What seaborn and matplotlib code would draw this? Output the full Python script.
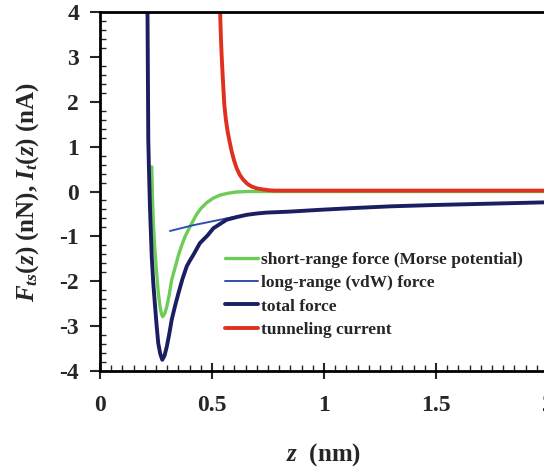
import numpy as np
import pandas as pd
import matplotlib
matplotlib.use("Agg")
import matplotlib.pyplot as plt
from matplotlib.ticker import MultipleLocator
import seaborn as sns

# --- valeurs ---
z_total = [0.209, 0.212, 0.2156, 0.219, 0.223, 0.227, 0.231, 0.238, 0.246, 0.253, 0.260, 0.269,
           0.278, 0.288, 0.298, 0.309, 0.320, 0.335, 0.350, 0.368, 0.387, 0.400, 0.417, 0.446,
           0.480, 0.506, 0.540, 0.565, 0.610, 0.655, 0.700, 0.744, 0.840, 0.976, 1.126,
           1.300, 1.500, 1.750, 2.000]
f_total = [4.40, 4.05, 1.15, 0.40, -0.34, -0.90, -1.45, -2.05, -2.57, -3.00, -3.38, -3.62,
           -3.75, -3.66, -3.46, -3.18, -2.86, -2.55, -2.27, -1.95, -1.67, -1.55, -1.41, -1.15,
           -0.98, -0.82, -0.71, -0.63, -0.57, -0.52, -0.49, -0.47, -0.45, -0.41, -0.37,
           -0.33, -0.30, -0.27, -0.24]

z_short = [0.231, 0.234, 0.238, 0.245, 0.253, 0.260, 0.268, 0.274, 0.280, 0.289, 0.298,
           0.309, 0.320, 0.335, 0.350, 0.365, 0.380, 0.400, 0.430, 0.450, 0.476, 0.505,
           0.536, 0.570, 0.610, 0.660, 0.714, 0.800, 1.000, 2.000]
f_short = [0.55, -0.10, -0.71, -1.30, -1.82, -2.25, -2.57, -2.72, -2.79, -2.72, -2.57,
           -2.30, -1.97, -1.70, -1.42, -1.20, -1.00, -0.80, -0.52, -0.38, -0.25, -0.15,
           -0.08, -0.04, -0.01, 0.00, 0.00, 0.00, 0.00, 0.00]

z_vdw = [0.3125, 0.417, 0.565, 0.625, 0.655, 0.700, 0.744, 0.840, 0.976, 1.126,
         1.300, 1.500, 1.750, 2.000]
f_vdw = [-0.88, -0.75, -0.60, -0.54, -0.52, -0.49, -0.47, -0.45, -0.41, -0.37,
         -0.33, -0.30, -0.27, -0.24]

z_tunnel = [0.534, 0.536, 0.540, 0.543, 0.547, 0.551, 0.555, 0.562, 0.570, 0.579, 0.588,
            0.598, 0.610, 0.624, 0.640, 0.658, 0.677, 0.700, 0.722, 0.750, 0.780, 0.850,
            1.000, 2.000]
i_tunnel = [4.40, 4.04, 3.40, 3.04, 2.65, 2.28, 1.93, 1.60, 1.33, 1.10, 0.89,
            0.70, 0.52, 0.37, 0.26, 0.17, 0.11, 0.07, 0.05, 0.03, 0.02, 0.02,
            0.02, 0.02]

labels = ["short-range force (Morse potential)", "long-range (vdW) force",
          "total force", "tunneling current"]
colors = ["#6ccc55", "#3050b0", "#1b1f62", "#e0301e"]
widths = [2.4, 1.4, 2.8, 2.8]

sns.set_theme(style="ticks")
plt.rcParams['font.family'] = ['Liberation Serif', 'DejaVu Serif']
plt.rcParams['axes.unicode_minus'] = False
plt.rcParams['mathtext.fontset'] = 'custom'
plt.rcParams['mathtext.it'] = 'Liberation Serif:italic:bold'
plt.rcParams['mathtext.rm'] = 'Liberation Serif:bold'

fig = plt.figure(figsize=(5.44, 4.71), dpi=100)
ax = fig.add_axes([100 / 544, 100 / 471, 448 / 544, 359 / 471])

series = [(z_short, f_short), (z_vdw, f_vdw), (z_total, f_total), (z_tunnel, i_tunnel)]
for (zz, ff), lab, col, lw in zip(series, labels, colors, widths):
    df = pd.DataFrame({"z": zz, "F": ff})
    sns.lineplot(data=df, x="z", y="F", ax=ax, color=col, linewidth=lw, label=lab,
                 sort=False, estimator=None)
for line in ax.get_lines():
    line.set_solid_joinstyle("round")

ax.set_xlim(0, 2)
ax.set_ylim(-4, 4)
ax.xaxis.set_major_locator(MultipleLocator(0.5))
ax.xaxis.set_minor_locator(MultipleLocator(0.05))
ax.yaxis.set_major_locator(MultipleLocator(1))
ax.yaxis.set_minor_locator(MultipleLocator(0.2))
ax.set_xticks([0, 0.5, 1, 1.5, 2], ["0", "0.5", "1", "1.5", "2"])

ax.tick_params(axis="x", which="major", direction="inout", length=11, width=1.5,
               labelsize=17, pad=12)
ax.tick_params(axis="x", which="minor", direction="in", length=4, width=1)
ax.tick_params(axis="y", which="major", direction="out", length=7, width=1.5,
               labelsize=17, pad=8)
ax.tick_params(axis="y", which="minor", direction="in", length=4, width=1)
for lab in ax.get_xticklabels() + ax.get_yticklabels():
    lab.set_fontweight("bold")

for side in ["left", "bottom", "top"]:
    ax.spines[side].set_linewidth(2)
    ax.spines[side].set_color("black")
ax.spines["right"].set_visible(False)

ax.set_xlabel(r"$z$  (nm)", fontsize=18, fontweight="bold", labelpad=18)
ax.set_ylabel(r"$F_{ts}(z)$ (nN), $I_t(z)$ (nA)", fontsize=18, fontweight="bold", labelpad=13)

leg = ax.legend(loc="upper left", bbox_to_anchor=(0.279, 0.331), frameon=False,
                fontsize=12.5, handlelength=1.9, handletextpad=0.15, labelspacing=0.4,
                borderpad=0, borderaxespad=0)
for t in leg.get_texts():
    t.set_fontweight("bold")

fig.savefig("out.png", dpi=100)
